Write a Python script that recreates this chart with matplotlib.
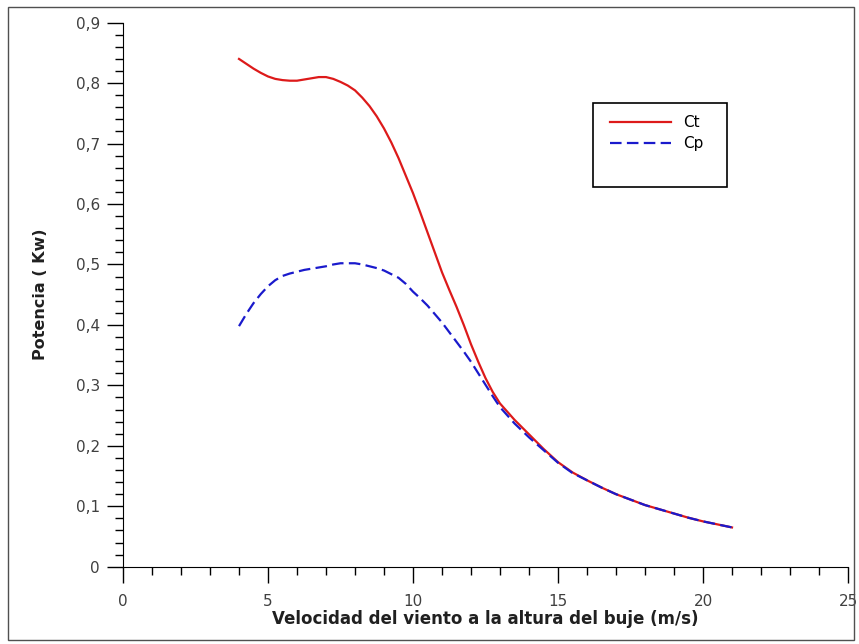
import numpy as np
import matplotlib
matplotlib.use("Agg")
import matplotlib.pyplot as plt
from matplotlib.ticker import MultipleLocator, FuncFormatter
from matplotlib.patches import Rectangle

# wind speed (m/s) and coefficients
speed = [4.0, 4.25, 4.5, 4.75, 5.0, 5.25, 5.5, 5.75, 6.0, 6.25, 6.5, 6.75,
         7.0, 7.25, 7.5, 7.75, 8.0, 8.25, 8.5, 8.75, 9.0, 9.25, 9.5, 9.75,
         10.0, 10.25, 10.5, 10.75, 11.0, 11.25, 11.5, 11.75, 12.0, 12.25, 12.5, 12.75,
         13.0, 13.5, 14.0, 14.5, 15.0, 15.5, 16.0, 16.5, 17.0, 17.5, 18.0, 18.5,
         19.0, 19.5, 20.0, 20.5, 21.0]
ct = [0.840, 0.832, 0.824, 0.817, 0.811, 0.807, 0.805, 0.804, 0.804, 0.806, 0.808, 0.810,
      0.810, 0.807, 0.802, 0.796, 0.788, 0.776, 0.762, 0.745, 0.725, 0.702, 0.676, 0.647,
      0.618, 0.586, 0.553, 0.520, 0.487, 0.458, 0.430, 0.400, 0.368, 0.339, 0.312, 0.289,
      0.270, 0.243, 0.219, 0.195, 0.173, 0.156, 0.143, 0.131, 0.120, 0.111, 0.102, 0.095,
      0.088, 0.081, 0.075, 0.070, 0.065]
cp = [0.398, 0.418, 0.436, 0.451, 0.464, 0.474, 0.481, 0.485, 0.488, 0.491, 0.493, 0.495,
      0.497, 0.500, 0.502, 0.502, 0.502, 0.500, 0.497, 0.494, 0.490, 0.484, 0.478, 0.468,
      0.455, 0.444, 0.432, 0.418, 0.404, 0.388, 0.372, 0.356, 0.339, 0.320, 0.301, 0.282,
      0.264, 0.237, 0.214, 0.193, 0.172, 0.155, 0.143, 0.131, 0.120, 0.111, 0.102, 0.095,
      0.088, 0.081, 0.075, 0.070, 0.065]

fig = plt.figure(figsize=(8.59, 6.44), dpi=100)
ax = fig.add_axes([0.1432, 0.12, 0.844, 0.8448])

ax.plot(speed, ct, color='#dd1a1a', lw=1.6, label='Ct')
ax.plot(speed, cp, color='#1a1acc', lw=1.6, ls=(0, (5.2, 2.4)), label='Cp')

ax.set_xlim(0, 25)
ax.set_ylim(0, 0.9)
for s in ['top', 'right']:
    ax.spines[s].set_visible(False)
ax.xaxis.set_major_locator(MultipleLocator(5))
ax.xaxis.set_minor_locator(MultipleLocator(1))
ax.yaxis.set_major_locator(MultipleLocator(0.1))
ax.yaxis.set_minor_locator(MultipleLocator(0.02))
ax.yaxis.set_major_formatter(FuncFormatter(lambda v, p: ('%.1f' % v).replace('.', ',') if v > 0 else '0'))
ax.tick_params(which='major', length=11.5, width=1, labelsize=11, labelcolor='#404040')
ax.tick_params(which='minor', length=6, width=1)
ax.tick_params(axis='x', which='major', pad=8)
ax.tick_params(axis='y', which='major', pad=5)

ax.set_xlabel('Velocidad del viento a la altura del buje (m/s)', fontsize=12,
              fontweight='bold', color='#202020', labelpad=1)
ax.set_ylabel('Potencia ( Kw)', fontsize=11.5, fontweight='bold', color='#202020', labelpad=20)

leg = ax.legend(loc='upper left', bbox_to_anchor=(0.65, 0.858), frameon=False,
                fontsize=11, handlelength=4, borderpad=1.0,
                labelspacing=0.4, handletextpad=0.8, borderaxespad=0)
ax.add_patch(Rectangle((0.648, 0.6985), 0.1847, 0.1545, transform=ax.transAxes,
                       fill=False, edgecolor='black', lw=1.2))

fig.patches.append(Rectangle((8 / 859, 4 / 644), 846 / 859, 633 / 644, transform=fig.transFigure,
                             fill=False, edgecolor='#505050', lw=1))

fig.savefig('out.png', dpi=100)
